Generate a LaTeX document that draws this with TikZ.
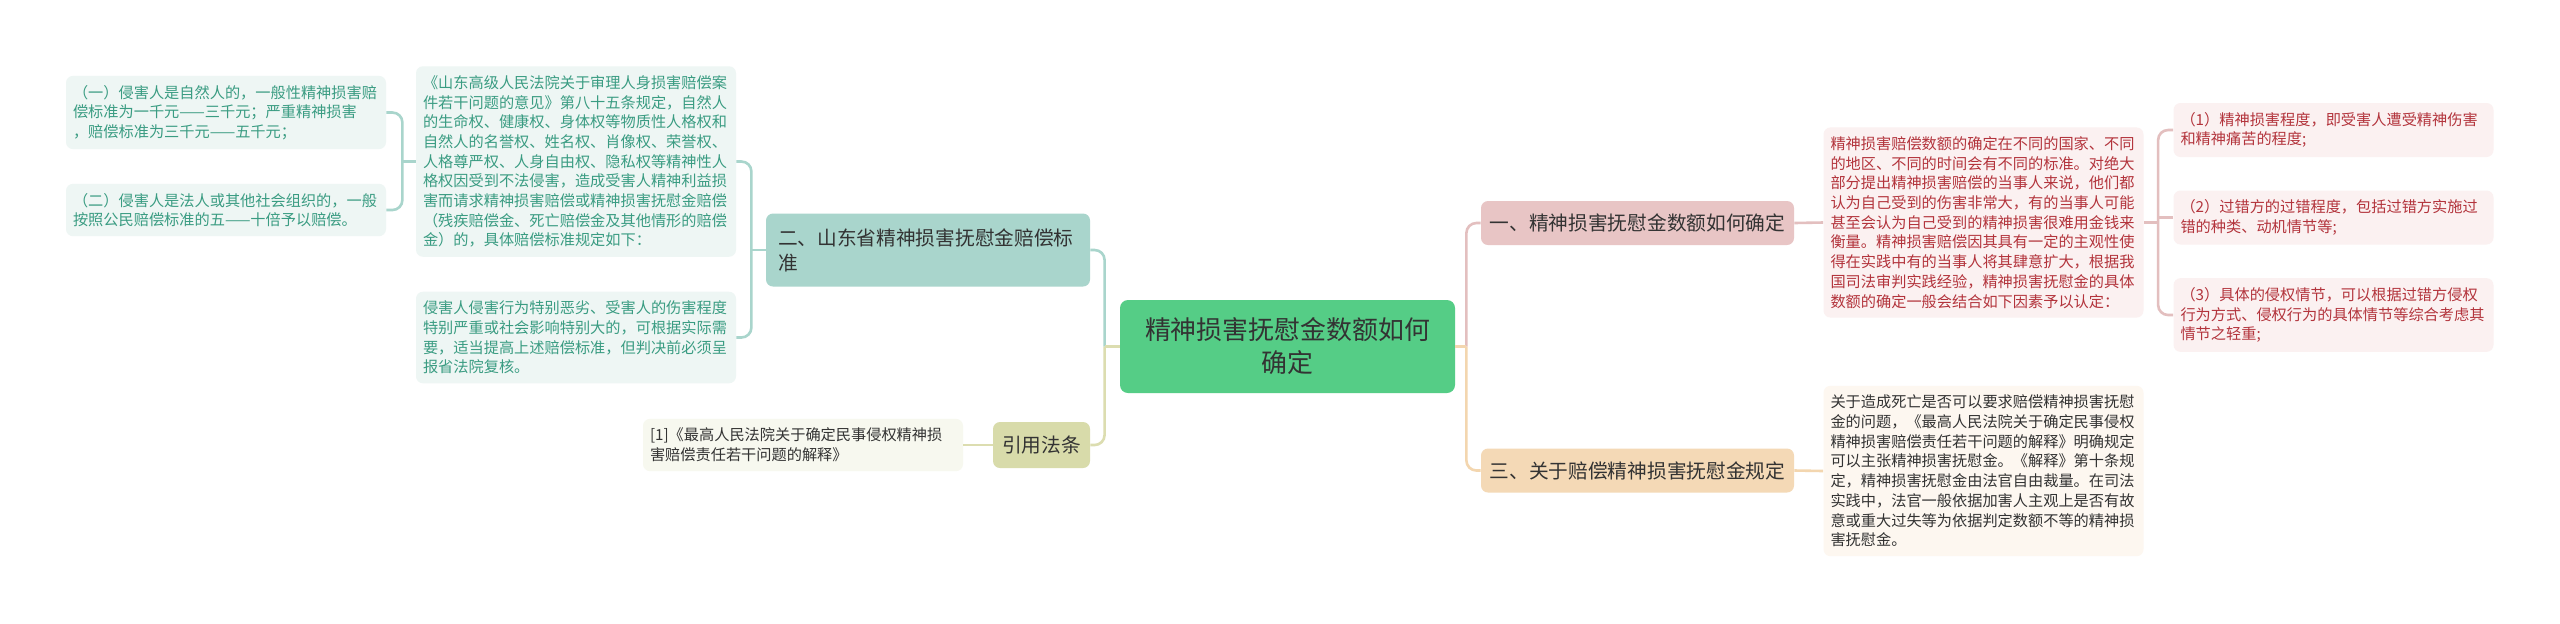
\documentclass[tikz,border=0pt]{standalone}
\usepackage{fontspec}
\setmainfont{Noto Sans CJK SC}
\usetikzlibrary{calc}
\definecolor{RootGreen}{HTML}{55CD86}
\definecolor{TealMid}{HTML}{A9D5CC}
\definecolor{TealLeaf}{HTML}{EEF6F4}
\definecolor{TealText}{HTML}{3A9C82}
\definecolor{PinkMid}{HTML}{E8C5C5}
\definecolor{PinkLine}{HTML}{E3BFBF}
\definecolor{PinkLeaf}{HTML}{FBF1F1}
\definecolor{RedText}{HTML}{B3343C}
\definecolor{PeachMid}{HTML}{F4D9B6}
\definecolor{PeachLine}{HTML}{F3D6AF}
\definecolor{PeachLeaf}{HTML}{FDF7F0}
\definecolor{OliveMid}{HTML}{D8DBAA}
\definecolor{OliveLine}{HTML}{DCDDB0}
\definecolor{OliveLeaf}{HTML}{F7F8EF}
\definecolor{Ink}{HTML}{333333}

\begin{document}
\begin{tikzpicture}[x=.5pt,y=-.5pt,
leafbox/.style={rounded corners=3.5pt,inner xsep=3.5pt,inner ysep=4.6pt,text width=153pt,align=left,font=\fontsize{7.6pt}{9.85pt}\selectfont},
branchbox/.style={rounded corners=3.5pt,minimum width=156.5pt,minimum height=22pt,inner sep=0pt,text=Ink,font=\fontsize{9.85pt}{12.5pt}\selectfont},
link/.style={line width=1.3pt,rounded corners=5pt}]
\fill[white](0,0)rectangle(2560,623);
% centre
\node[fill=RootGreen,rounded corners=4pt,minimum width=167.5pt,minimum height=46.5pt,align=center,text=Ink,font=\fontsize{12.95pt}{16.5pt}\selectfont](root)at(1287.5,346.5){精神损害抚慰金数额如何\\确定};
% left side
\node[branchbox,fill=TealMid,minimum width=162pt,minimum height=36.5pt,text width=150pt,inner xsep=6pt,align=left](two)at(928,250){二、山东省精神损害抚慰金赔偿标\\准};
\node[branchbox,fill=OliveMid,minimum width=48.5pt,minimum height=23pt](cite)at(1041.5,445){引用法条};
\node[leafbox,fill=TealLeaf,text=TealText](b1)at(576,161.5){《山东高级人民法院关于审理人身损害赔偿案\\
件若干问题的意见》第八十五条规定，自然人\\
的生命权、健康权、身体权等物质性人格权和\\
自然人的名誉权、姓名权、肖像权、荣誉权、\\
人格尊严权、人身自由权、隐私权等精神性人\\
格权因受到不法侵害，造成受害人精神利益损\\
害而请求精神损害赔偿或精神损害抚慰金赔偿\\
（残疾赔偿金、死亡赔偿金及其他情形的赔偿\\
金）的，具体赔偿标准规定如下：};
\node[leafbox,fill=TealLeaf,text=TealText](b2)at(576,337.5){侵害人侵害行为特别恶劣、受害人的伤害程度\\
特别严重或社会影响特别大的，可根据实际需\\
要，适当提高上述赔偿标准，但判决前必须呈\\
报省法院复核。};
\node[leafbox,fill=TealLeaf,text=TealText](a1)at(226,112.5){（一）侵害人是自然人的，一般性精神损害赔\\
偿标准为一千元——三千元；严重精神损害\\
，赔偿标准为三千元——五千元；};
\node[leafbox,fill=TealLeaf,text=TealText](a2)at(226,210){（二）侵害人是法人或其他社会组织的，一般\\
按照公民赔偿标准的五——十倍予以赔偿。};
\node[leafbox,fill=OliveLeaf,text=Ink](ref)at(803,445){[1]《最高人民法院关于确定民事侵权精神损\\
害赔偿责任若干问题的解释》};
% right side
\node[branchbox,fill=PinkMid](yi)at(1637.5,223){一、精神损害抚慰金数额如何确定};
\node[branchbox,fill=PeachMid](san)at(1637.5,470.5){三、关于赔偿精神损害抚慰金规定};
\node[leafbox,fill=PinkLeaf,text=RedText](c1)at(1983.5,222.5){精神损害赔偿数额的确定在不同的国家、不同\\
的地区、不同的时间会有不同的标准。对绝大\\
部分提出精神损害赔偿的当事人来说，他们都\\
认为自己受到的伤害非常大，有的当事人可能\\
甚至会认为自己受到的精神损害很难用金钱来\\
衡量。精神损害赔偿因其具有一定的主观性使\\
得在实践中有的当事人将其肆意扩大，根据我\\
国司法审判实践经验，精神损害抚慰金的具体\\
数额的确定一般会结合如下因素予以认定：};
\node[leafbox,fill=PinkLeaf,text=RedText](d1)at(2333.5,130){（1）精神损害程度，即受害人遭受精神伤害\\
和精神痛苦的程度;};
\node[leafbox,fill=PinkLeaf,text=RedText](d2)at(2333.5,217.5){（2）过错方的过错程度，包括过错方实施过\\
错的种类、动机情节等;};
\node[leafbox,fill=PinkLeaf,text=RedText](d3)at(2333.5,315){（3）具体的侵权情节，可以根据过错方侵权\\
行为方式、侵权行为的具体情节等综合考虑其\\
情节之轻重;};
\node[leafbox,fill=PeachLeaf,text=Ink](e1)at(1983.5,471){关于造成死亡是否可以要求赔偿精神损害抚慰\\
金的问题，《最高人民法院关于确定民事侵权\\
精神损害赔偿责任若干问题的解释》明确规定\\
可以主张精神损害抚慰金。《解释》第十条规\\
定，精神损害抚慰金由法官自由裁量。在司法\\
实践中，法官一般依据加害人主观上是否有故\\
意或重大过失等为依据判定数额不等的精神损\\
害抚慰金。};
% connectors
\coordinate(lj)at($(root.west)+(-15,0)$);
\coordinate(rj)at($(root.east)+(11,0)$);
\draw[link,TealMid](lj)|-(two.east);
\draw[link,OliveLine](root.west)--(lj);
\draw[link,OliveLine](lj)|-(cite.east);
\draw[link,OliveLine](cite.west)--(ref.east);
\draw[link,TealMid](two.west)--++(-15,0);
\draw[link,TealMid](b1.east)--++(15,0)|-(b2.east);
\draw[link,TealMid](b1.west)--++(-14,0);
\draw[link,TealMid](a1.east)--++(16,0)|-(a2.east);
\draw[link,PinkLine](rj)|-(yi.west);
\draw[link,PeachLine](root.east)--(rj);
\draw[link,PeachLine](rj)|-(san.west);
\draw[link,PinkLine](yi.east)--(c1.west);
\draw[link,PinkLine](c1.east)--++(15,0);
\draw[link,PinkLine](d1.west)--++(-15,0)|-(d3.west);
\draw[link,PinkLine](d2.west)--++(-15,0);
\draw[link,PeachLine](san.east)--(e1.west);
\end{tikzpicture}
\end{document}
